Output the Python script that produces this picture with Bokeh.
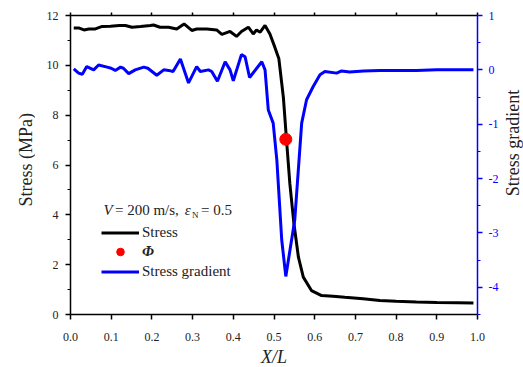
import math
from bokeh.plotting import figure
from bokeh.layouts import row
from bokeh.models import (Range1d, LinearAxis, FixedTicker, PrintfTickFormatter,
                          Legend, LegendItem, Label, Title)
from bokeh.core.properties import value
from bokeh.embed import file_html
from bokeh.resources import INLINE

# ---- data ----
stress_x = [0.008, 0.02, 0.033, 0.045, 0.061, 0.078, 0.098, 0.12, 0.135, 0.151,
            0.172, 0.196, 0.204, 0.22, 0.241, 0.261, 0.279, 0.298, 0.31, 0.335,
            0.359, 0.372, 0.392, 0.408, 0.42, 0.437, 0.449, 0.457, 0.466, 0.478,
            0.49, 0.502, 0.512, 0.523, 0.531, 0.539, 0.549, 0.56, 0.572, 0.592,
            0.617, 0.645, 0.674, 0.719, 0.76, 0.8, 0.85, 0.9, 0.95, 0.99]
stress_y = [11.50, 11.50, 11.42, 11.46, 11.46, 11.56, 11.57, 11.60, 11.60, 11.53,
            11.56, 11.60, 11.62, 11.53, 11.53, 11.46, 11.66, 11.40, 11.46, 11.46,
            11.42, 11.24, 11.36, 11.16, 11.36, 11.53, 11.26, 11.42, 11.33, 11.60,
            11.26, 10.73, 10.26, 8.72, 6.95, 5.24, 3.64, 2.30, 1.50, 0.96,
            0.76, 0.73, 0.69, 0.63, 0.56, 0.53, 0.50, 0.48, 0.47, 0.46]

grad_x = [0.008, 0.02, 0.029, 0.04, 0.057, 0.069, 0.09, 0.10, 0.11, 0.123,
          0.13, 0.143, 0.159, 0.18, 0.19, 0.212, 0.229, 0.241, 0.252, 0.27,
          0.29, 0.31, 0.319, 0.339, 0.347, 0.361, 0.38, 0.392, 0.40, 0.42,
          0.429, 0.44, 0.47, 0.478, 0.486, 0.498, 0.507, 0.519, 0.529, 0.551,
          0.568, 0.58, 0.596, 0.613, 0.625, 0.654, 0.666, 0.686, 0.72, 0.76,
          0.8, 0.85, 0.9, 0.95, 0.99]
grad_y = [0.02, -0.06, -0.08, 0.06, 0.0, 0.09, 0.05, 0.03, -0.01, 0.05,
          0.03, -0.07, 0.0, 0.05, 0.03, -0.10, 0.0, -0.01, -0.03, 0.20,
          -0.24, 0.06, -0.03, 0.0, -0.03, -0.21, 0.15, 0.0, -0.20, 0.28,
          0.24, -0.14, 0.15, 0.0, -0.74, -0.98, -1.66, -3.13, -3.80, -2.76,
          -0.98, -0.55, -0.31, -0.09, -0.03, -0.06, -0.02, -0.04, -0.02, -0.01,
          -0.01, -0.01, 0.0, 0.0, 0.0]

phi_x = [0.529]
phi_y = [7.03]

x_ticks = [0.0, 0.1, 0.2, 0.3, 0.4, 0.5, 0.6, 0.7, 0.8, 0.9, 1.0]
left_ticks = [0, 2, 4, 6, 8, 10, 12]
left_minor = [1, 3, 5, 7, 9, 11]
right_ticks = [-4, -3, -2, -1, 0, 1]
right_minor = [-4.5, -3.5, -2.5, -1.5, -0.5, 0.5]

x_title = "X/L"
left_title = "Stress (MPa)"
right_title = "Stress gradient"
legend_labels = ["Stress", "\u03a6", "Stress gradient"]

FONT = "Liberation Serif"
TXT = "#222222"

# layout sizes (pixels)
W, H = 523, 367
LW, RW = 35, 22
MW = W - LW - RW


def blank(width, height, xr, yr):
    f = figure(width=width, height=height, output_backend="svg",
               toolbar_location=None, x_range=xr, y_range=yr,
               x_axis_type=None, y_axis_type=None, min_border=0)
    f.outline_line_color = None
    f.xgrid.visible = False
    f.ygrid.visible = False
    f.background_fill_color = "white"
    f.border_fill_color = "white"
    return f


p = figure(width=MW, height=H, output_backend="svg", toolbar_location=None,
           x_range=Range1d(0, 1), y_range=Range1d(0, 12),
           min_border_left=35, min_border_right=23, min_border_top=15,
           min_border_bottom=53, x_axis_type=None, y_axis_type=None)
p.outline_line_color = None
p.background_fill_color = "white"
p.border_fill_color = "white"
p.xgrid.visible = False
p.ygrid.visible = False
p.extra_y_ranges = {"grad": Range1d(-4.5, 1)}

# axes
xb = LinearAxis(ticker=FixedTicker(ticks=x_ticks, minor_ticks=[]),
                formatter=PrintfTickFormatter(format="%.1f"))
yl = LinearAxis(ticker=FixedTicker(ticks=left_ticks, minor_ticks=left_minor))
yr = LinearAxis(y_range_name="grad",
                ticker=FixedTicker(ticks=right_ticks, minor_ticks=right_minor),
                formatter=PrintfTickFormatter(format="%d"))
xt = LinearAxis(ticker=FixedTicker(ticks=x_ticks, minor_ticks=[]))

for ax in (xb, yl, yr, xt):
    ax.axis_line_width = 1.5
    ax.major_tick_line_width = 1.5
    ax.minor_tick_line_width = 1.2
    ax.major_tick_in = 0
    ax.minor_tick_in = 0
    ax.major_tick_out = 5
    ax.minor_tick_out = 3
    ax.major_label_text_font = FONT
    ax.major_label_text_font_size = "12px"
    ax.major_label_text_color = TXT

xb.major_label_standoff = 13
yl.major_label_standoff = 7
yr.axis_line_color = "blue"
yr.major_tick_line_color = "blue"
yr.minor_tick_line_color = "blue"
yr.major_label_text_color = "blue"
yr.major_label_standoff = 6
xt.major_tick_out = 3
xt.major_label_text_color = None
xt.major_label_standoff = 0

p.add_layout(xb, "below")
p.add_layout(yl, "left")
p.add_layout(yr, "right")
p.add_layout(xt, "above")

# x-axis title as a title below the axis
p.add_layout(Title(text=x_title, align="center", text_font=FONT,
                   text_font_size="18px", text_font_style="italic",
                   text_color=TXT, standoff=2, text_line_height=0.9), "below")

# data
r_stress = p.line(stress_x, stress_y, line_color="black", line_width=3)
r_grad = p.line(grad_x, grad_y, line_color="blue", line_width=3, y_range_name="grad")
r_phi = p.scatter(phi_x, phi_y, size=12, fill_color="red", line_color="red")

# legends (one per row so the Φ row can be italic)
rows = [(legend_labels[0], r_stress, 72.2, "normal"),
        (legend_labels[1], r_phi, 52.8, "bold italic"),
        (legend_labels[2], r_grad, 33.5, "normal")]
for lab, rend, yloc, style in rows:
    lg = Legend(items=[LegendItem(label=lab, renderers=[rend])],
                location=(31, yloc), orientation="vertical",
                glyph_width=38, glyph_height=19, label_height=19,
                label_standoff=3, padding=0, margin=0, spacing=0,
                border_line_color=None, background_fill_alpha=0,
                label_text_font=FONT, label_text_font_size="15px",
                label_text_font_style=style, label_text_color=TXT)
    p.add_layout(lg)

# header text: V = 200 m/s, ε_N = 0.5
hx, hy = 0.081, 4.20
pieces = [("V", 0, 0, "15px", "italic"),
          ("= 200 m/s,", 11.5, 0, "15px", "normal"),
          ("\u03b5", 81.3, 0, "15px", "italic"),
          ("N", 88.5, -5, "9px", "normal"),
          ("= 0.5", 97.5, 0, "15px", "normal")]
for t, dx, dy, fs, st in pieces:
    p.add_layout(Label(x=hx, y=hy, x_offset=dx, y_offset=dy, text=t,
                       text_font=FONT, text_font_size=fs, text_font_style=st,
                       text_color=TXT, text_baseline="middle", text_align="left"))

# y-axis titles in thin side strips (pixel coordinates, y measured from top)
pl = blank(LW, H, Range1d(0, LW), Range1d(H, 0))
pl.text(x=[25.5], y=[177], text=[left_title], angle=math.pi / 2,
        text_font=value(FONT), text_font_size="18px", text_color=TXT,
        text_align="center", text_baseline="middle")

pr = blank(RW, H, Range1d(0, RW), Range1d(H, 0))
pr.text(x=[11.5], y=[156.5], text=[right_title], angle=math.pi / 2,
        text_font=value(FONT), text_font_size="18px", text_color=TXT,
        text_align="center", text_baseline="middle")

layout = row(pl, p, pr, spacing=0)

open("out.html", "w").write(file_html(layout, INLINE))
